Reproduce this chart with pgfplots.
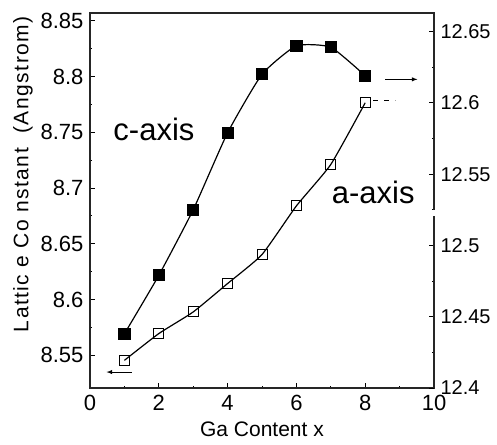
\documentclass[border=0pt]{standalone}
\usepackage{fontspec}
\setmainfont{Liberation Sans}
\usepackage{pgfplots}
\usepackage{pgfplotstable}
\pgfplotsset{compat=1.18}

% a-axis lattice constant (left scale, open squares)
\pgfplotstableread{
x  a
1  8.5455
2  8.5695
3  8.5889
4  8.6144
5  8.6404
6  8.6840
7  8.7212
8  8.7765
}\aaxisdata

% c-axis lattice constant (right scale, filled squares)
\pgfplotstableread{
x  c
1  12.438
2  12.479
3  12.525
4  12.579
5  12.620
6  12.640
7  12.639
8  12.619
}\caxisdata

\begin{document}
\begin{tikzpicture}
\pgfplotsset{
  common/.style={
    scale only axis, width=344pt, height=375pt,
    xmin=0, xmax=10,
    tick align=inside,
    /pgf/number format/assume math mode=true,
    axis line style={line width=1.3pt, black!85},
    major tick length=5pt, minor tick length=2.5pt,
    every tick/.style={black, line width=0.9pt},
  },
}
\begin{axis}[common,
  ymin=8.5207, ymax=8.857,
  xtick={0,2,4,6,8,10}, minor xtick={1,3,5,7,9},
  xtick pos=bottom, ytick pos=left,
  ytick={8.55,8.6,8.65,8.7,8.75,8.8,8.85},
  minor ytick={8.575,8.625,8.675,8.725,8.775,8.825},
  yticklabel style={font=\fontsize{22}{24}\selectfont, xshift=-3pt,
    /pgf/number format/fixed, /pgf/number format/precision=2},
  xticklabel style={font=\fontsize{22}{24}\selectfont, yshift=-4pt},
  xlabel={Ga Content x},
  xlabel style={font=\fontsize{21}{24}\selectfont, yshift=-4pt},
  clip=false,
]
\addplot[black, line width=1.2pt, smooth, tension=0.3, mark=square,
  mark size=5pt, mark options={line width=1pt, solid}]
  table[x=x, y=a] {\aaxisdata};

\node[anchor=base west, font=\fontsize{31}{34}\selectfont] at (axis cs:0.58,8.743) {c-axis};
\node[anchor=base west, font=\fontsize{31}{34}\selectfont] at (axis cs:6.93,8.686) {a-axis};

% axis indicators
\draw[-latex, line width=0.9pt] (axis cs:1.21,8.535) -- (axis cs:0.48,8.535);
\draw[-latex, line width=0.9pt] (axis cs:8.58,8.7975) -- (axis cs:9.52,8.7975);
\draw[dashed, dash pattern=on 5pt off 6pt, line width=0.8pt] (axis cs:8.23,8.779) -- (axis cs:8.87,8.779);

\node[rotate=90, font=\fontsize{21}{24}\selectfont\addfontfeatures{LetterSpace=7}]
  at ([xshift=-67pt]rel axis cs:0,0.57) {Lattic e Co nstant \ (Angstrom)};
\end{axis}

\begin{axis}[common,
  ymin=12.4, ymax=12.663,
  hide x axis, axis y line*=right,
  ytick={12.4,12.45,12.5,12.55,12.6,12.65},
  minor ytick={12.425,12.475,12.525,12.575,12.625},
  yticklabel style={font=\fontsize{20}{24}\selectfont, xshift=3pt,
    /pgf/number format/fixed, /pgf/number format/precision=2},
]
\addplot[black, line width=1.2pt, smooth, tension=0.3, mark=square*,
  mark size=5.5pt, mark options={solid, fill=black}]
  table[x=x, y=c] {\caxisdata};
\coordinate (g1) at (axis cs:10,12.5203);
\coordinate (g2) at (axis cs:10,12.5245);
\end{axis}

% break in the right-hand scale
\fill[white] ([xshift=-2pt]g1) rectangle ([xshift=2pt]g2);

\pgfresetboundingbox
\path[use as bounding box] (-90pt,-56pt) rectangle (407pt,388pt);
\end{tikzpicture}
\end{document}
